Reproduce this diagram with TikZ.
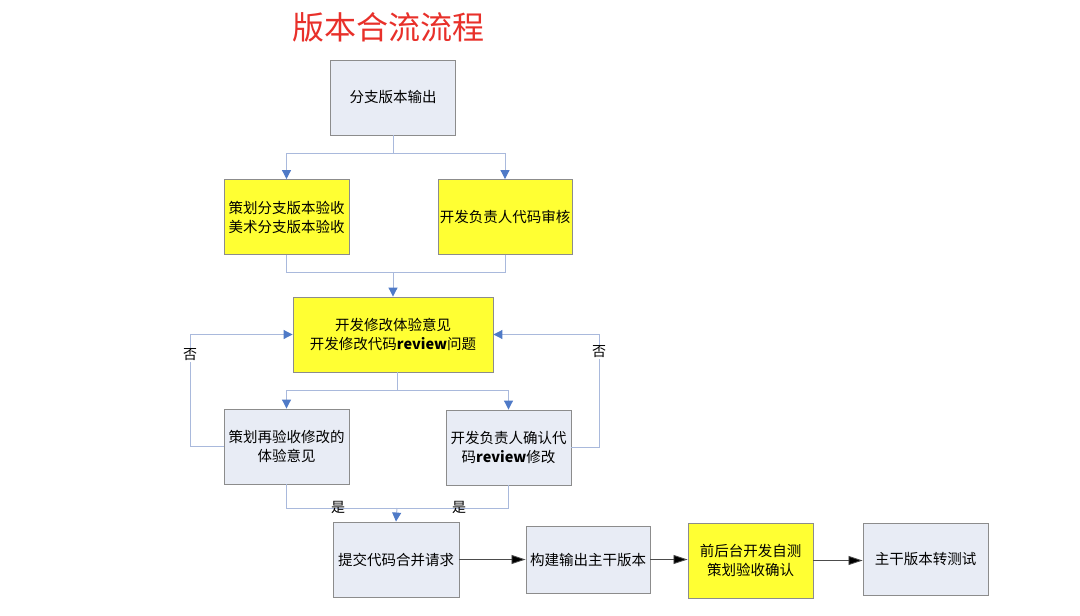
\documentclass[tikz,border=0pt]{standalone}
\usepackage{fontspec}
\setmainfont{Noto Sans CJK SC}
\usetikzlibrary{arrows.meta}
\definecolor{boxfill}{HTML}{E8ECF5}
\definecolor{boxline}{HTML}{8C8C8C}
\definecolor{ylw}{HTML}{FFFF33}
\definecolor{conn}{HTML}{A9B9DC}
\definecolor{tipblue}{HTML}{4F7AC7}
\definecolor{ttl}{HTML}{E8302A}
\tikzset{
  box/.style={draw=boxline, line width=0.9pt, fill=boxfill, minimum width=#1, minimum height=75pt, inner sep=0pt, align=center, font=\fontsize{14.5}{19}\selectfont},
  box/.default=125pt,
  ybox/.style={box=#1, fill=ylw},
  ybox/.default=125pt,
  cn/.style={draw=conn, line width=1pt},
  bar/.style={cn, -{Triangle[width=9pt,length=9pt,fill=tipblue,color=tipblue]}},
  kar/.style={draw=black!70, line width=0.8pt, -{Triangle[width=9pt,length=14pt,fill=black]}},
  lbl/.style={font=\fontsize{14}{16}\selectfont, inner sep=1pt}
}
\begin{document}
\begin{tikzpicture}[x=1pt,y=-1pt]
\useasboundingbox (0,0) rectangle (1080,616);
\node[text=ttl, font=\fontsize{32}{34}\selectfont] (title) at (388,27) {版本合流流程};
\node[box] (b1) at (393,97.5) {分支版本输出};
\node[ybox] (b2) at (286.5,217) {策划分支版本验收\\美术分支版本验收};
\node[ybox=134pt] (b3) at (505,217) {开发负责人代码审核};
\node[ybox=200pt] (b4) at (393,334.5) {开发修改体验意见\\开发修改代码\textbf{review}问题};
\node[box] (b5) at (286.5,446.5) {策划再验收修改的\\体验意见};
\node[box] (b6) at (508.5,447.5) {开发负责人确认代\\码\textbf{review}修改};
\node[box=126pt] (b7) at (396,559.5) {提交代码合并请求};
\node[box=124pt, minimum height=67pt] (b8) at (588,559.5) {构建输出主干版本};
\node[ybox] (b9) at (750.5,560.5) {前后台开发自测\\策划验收确认};
\node[box=125pt, minimum height=72pt] (b10) at (925.5,559) {主干版本转测试};
% connectors
\coordinate (s1) at (393,153);
\draw[cn] (b1.south) -- (s1);
\draw[bar] (s1) -| (b2.north);
\draw[bar] (s1) -| (b3.north);
\coordinate (j1) at (393,272);
\draw[cn] (b2.south) |- (j1);
\draw[cn] (b3.south) |- (j1);
\draw[bar] (j1) -- (b4.north);
\coordinate (s2) at (397,390);
\draw[cn] (b4.south -| s2) -- (s2);
\draw[bar] (s2) -| (b5.north);
\draw[bar] (s2) -| (b6.north);
\coordinate (lx) at (190,446);
\coordinate (rx) at (599,446);
\draw[bar] (b5.west) -- (b5.west -| lx) |- (b4.west);
\draw[bar] (b6.east) -- (b6.east -| rx) |- (b4.east);
\node[lbl, fill=white] (no1) at (190,355) {否};
\node[lbl, fill=white] (no2) at (599,352) {否};
\coordinate (j2) at (397,508);
\draw[cn] (b5.south) |- (j2);
\draw[cn] (b6.south) |- (j2);
\draw[bar] (j2) -- (b7.north);
\node[lbl] (yes1) at (338,507) {是};
\node[lbl] (yes2) at (459,507) {是};
\draw[kar] (b7.east) -- (b7.east -| b8.west);
\draw[kar] (b8.east) -- (b8.east -| b9.west);
\draw[kar] (b9.east) -- (b9.east -| b10.west);
\end{tikzpicture}
\end{document}
